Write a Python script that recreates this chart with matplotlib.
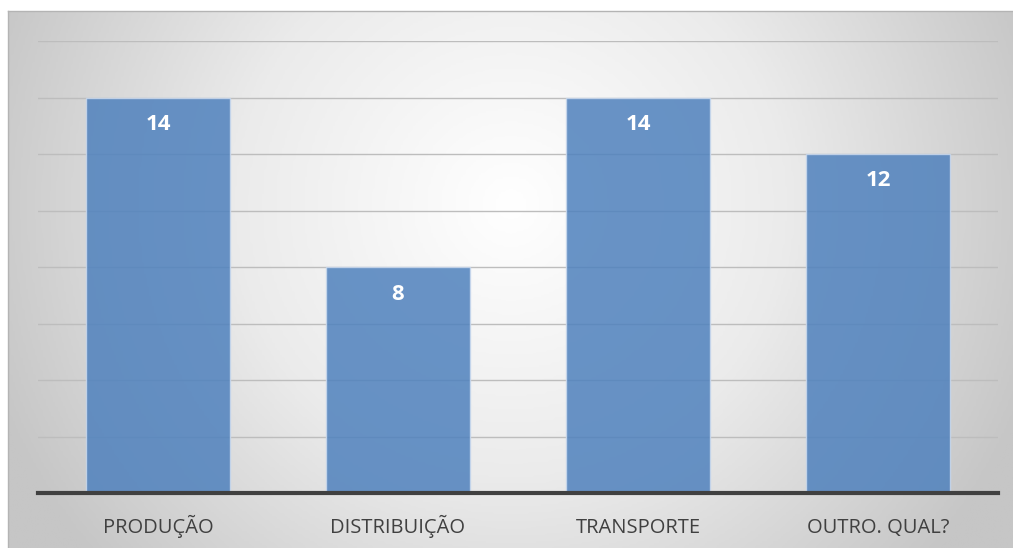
import numpy as np
import matplotlib.pyplot as plt
from matplotlib.colors import LinearSegmentedColormap

# Data
categories = ['PRODUÇÃO', 'DISTRIBUIÇÃO', 'TRANSPORTE', 'OUTRO. QUAL?']
values = [14, 8, 14, 12]

W, H = 1013, 548
fig = plt.figure(figsize=(W / 100, H / 100), dpi=100)
fig.patch.set_facecolor('white')

# Background panel with radial gradient
bg = fig.add_axes([8 / W, 0, 1 - 8 / W, (H - 11) / H])
gx, gy = np.meshgrid(np.linspace(0, 1, 400), np.linspace(0, 1, 220))
cx, cy = 0.50, 0.36
r = np.sqrt(((gx - cx) * 1.0) ** 2 + ((gy - cy) * 0.54) ** 2)
r = np.clip(r / 0.55, 0, 1)
cmap = LinearSegmentedColormap.from_list('bg', ['#ffffff', '#ebebeb', '#c6c6c6'])
bg.imshow(r, cmap=cmap, aspect='auto', extent=[0, 1, 0, 1], origin='upper', vmin=0, vmax=1)
bg.set_xticks([])
bg.set_yticks([])
for side in ['right', 'bottom']:
    bg.spines[side].set_visible(False)
for side in ['top', 'left']:
    bg.spines[side].set_color('#b4b4b4')
    bg.spines[side].set_linewidth(1)

# Plot area
ax = fig.add_axes([38 / W, (H - 493) / H, 960 / W, (493 - 41) / H])
ax.patch.set_alpha(0)
x = np.arange(len(categories))
bars = ax.bar(x, values, width=0.6, color='#4f81bd', alpha=0.85,
              edgecolor='#c9d9ee', linewidth=1, zorder=2)

ax.set_xlim(-0.5, len(categories) - 0.5)
ax.set_ylim(0, 16)
ax.set_yticks(np.arange(2, 17, 2))
ax.yaxis.grid(True, color='#bdbdbd', linewidth=1, zorder=0)
ax.set_axisbelow(True)
ax.tick_params(axis='y', length=0, labelleft=False)
ax.tick_params(axis='x', length=0, pad=28.5)
ax.set_xticks(x)
ax.set_xticklabels(categories, fontsize=14.5, color='#404040', family='Open Sans')
for lbl in ax.get_xticklabels():
    lbl.set_verticalalignment('baseline')

for side in ['top', 'right', 'left']:
    ax.spines[side].set_visible(False)
ax.spines['bottom'].set_color('#404040')
ax.spines['bottom'].set_linewidth(3)
ax.spines['bottom'].set_zorder(3)

# Value labels inside bars
for xi, v in zip(x, values):
    ax.annotate(str(v), (xi, v), xytext=(0, -27), textcoords='offset pixels',
                ha='center', va='center', color='white', fontsize=16,
                fontweight='bold', family='Open Sans', zorder=4)

fig.savefig('out.png', dpi=100)
